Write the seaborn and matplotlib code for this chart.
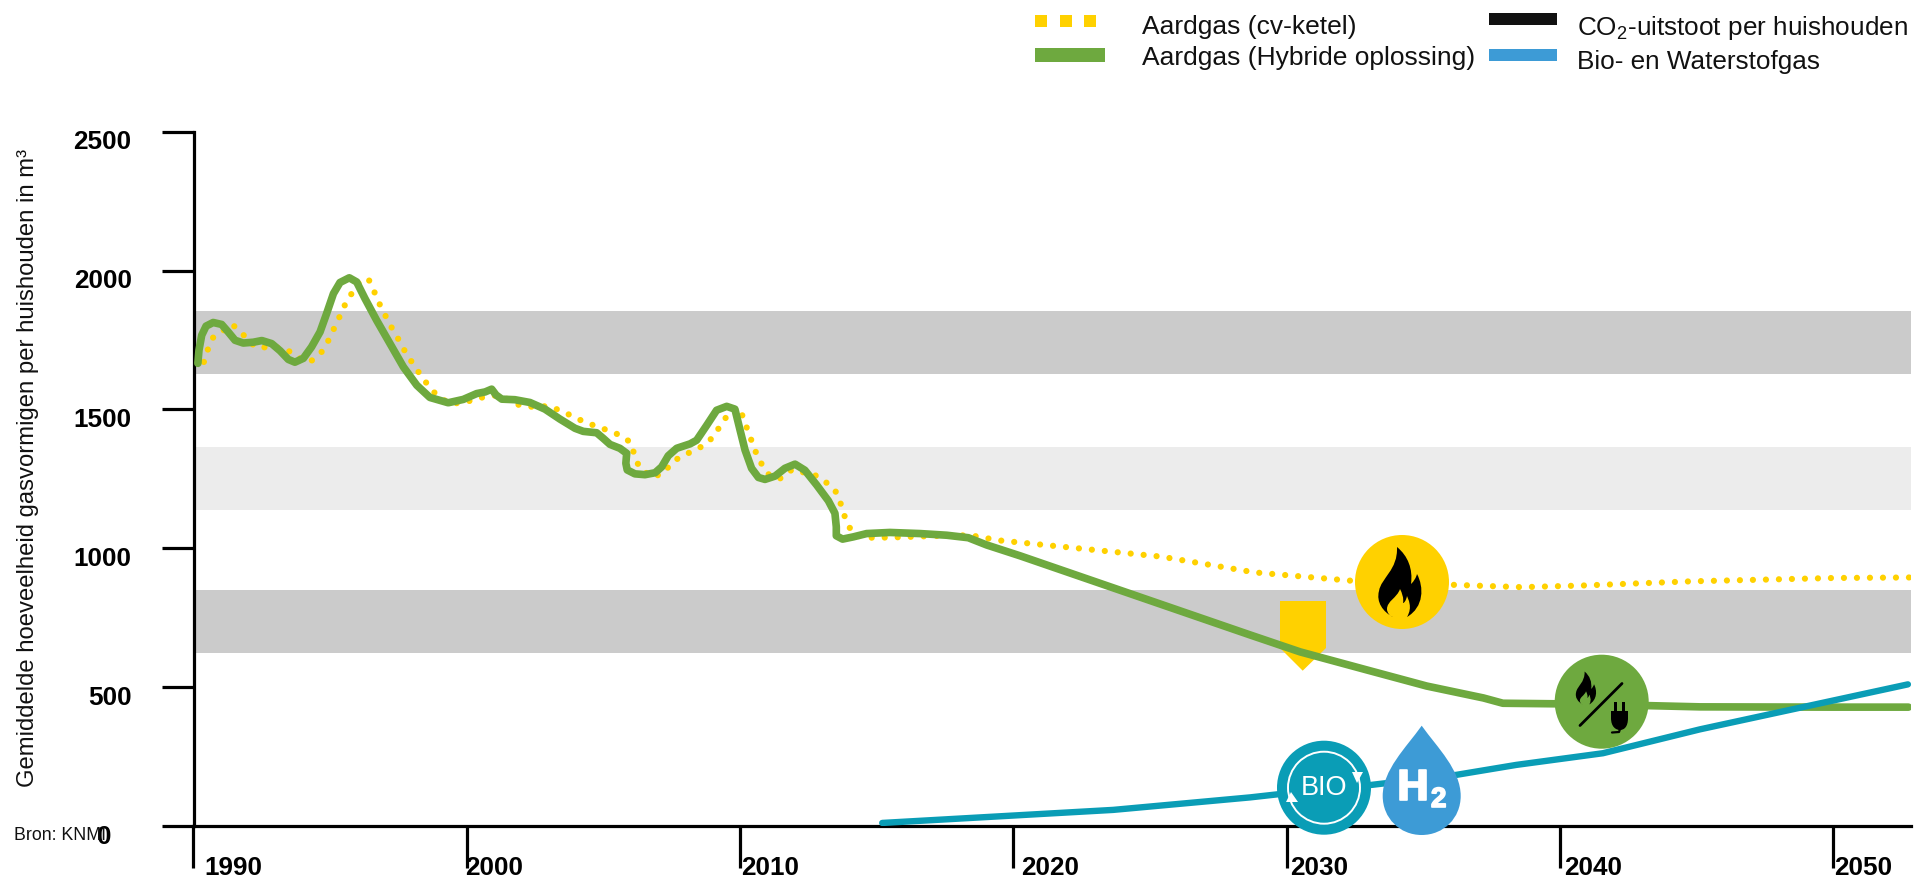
import matplotlib
matplotlib.use('Agg')
import matplotlib.pyplot as plt
import matplotlib.patheffects as pe
import seaborn as sns
from matplotlib.patches import Circle, PathPatch, Polygon, Rectangle
from matplotlib.path import Path
from matplotlib.transforms import Affine2D

# values
years_gas = [1990.38, 1990.53, 1990.72, 1991.42, 1991.73, 1992.29, 1992.86, 1993.37, 1993.75, 1994.26,
             1994.65, 1994.93, 1995.14, 1995.36, 1995.58, 1995.85, 1996.12, 1996.41, 1996.6, 1996.8,
             1997.03, 1997.27, 1997.52, 1997.76, 1998.04, 1998.32, 1998.63, 1998.96, 1999.39, 1999.85,
             2000.3, 2000.75, 2001.21, 2001.91, 2002.43, 2002.98, 2003.45, 2003.92, 2004.34, 2004.76,
             2005.2, 2005.64, 2006.01, 2006.15, 2006.35, 2006.8, 2007.19, 2007.46, 2007.77, 2008.2,
             2008.65, 2009.01, 2009.26, 2009.53, 2009.9, 2010.12, 2010.26, 2010.42, 2010.58, 2010.79,
             2011.03, 2011.43, 2011.91, 2012.8, 2013.15, 2013.48, 2013.66, 2013.79, 2013.94, 2014.2,
             2014.63, 2015.56, 2016.98, 2018.41, 2018.94, 2019.41, 2025.4, 2028.84, 2032.38, 2036.2,
             2038.6, 2040.84, 2044.8, 2050.0, 2052.9]
gas_boiler = [1671, 1717, 1759, 1806, 1778, 1722, 1725, 1720, 1689, 1671,
              1701, 1747, 1791, 1837, 1885, 1927, 1965, 1968, 1927, 1881,
              1836, 1791, 1749, 1705, 1663, 1622, 1581, 1545, 1521, 1524,
              1536, 1548, 1551, 1516, 1509, 1512, 1495, 1473, 1453, 1439,
              1423, 1406, 1380, 1329, 1284, 1257, 1270, 1303, 1327, 1347,
              1369, 1400, 1439, 1478, 1509, 1472, 1429, 1387, 1345, 1303,
              1267, 1249, 1284, 1261, 1237, 1208, 1167, 1125, 1084, 1047,
              1038, 1039, 1044, 1047, 1038, 1029, 970, 913, 883, 868,
              860, 866, 881, 893, 895]

years_hybrid = [1990.16, 1990.2, 1990.3, 1990.46, 1990.72, 1991.03, 1991.27, 1991.52, 1991.82, 1992.19,
                1992.5, 1992.86, 1993.17, 1993.47, 1993.71, 1994.02, 1994.32, 1994.63, 1994.87, 1995.12,
                1995.36, 1995.7, 1995.97, 1996.27, 1996.7, 1997.19, 1997.68, 1998.17, 1998.65, 1999.32,
                1999.87, 2000.36, 2000.67, 2000.91, 2001.07, 2001.28, 2001.76, 2002.31, 2002.86, 2003.41,
                2003.96, 2004.26, 2004.75, 2004.99, 2005.24, 2005.6, 2005.85, 2005.82, 2005.87, 2006.15,
                2006.52, 2006.89, 2007.13, 2007.37, 2007.68, 2008.17, 2008.41, 2008.78, 2009.14, 2009.51,
                2009.81, 2010.0, 2010.18, 2010.42, 2010.67, 2010.91, 2011.28, 2011.64, 2012.01, 2012.37,
                2012.8, 2013.23, 2013.47, 2013.52, 2013.52, 2013.75, 2014.14, 2014.63, 2015.48, 2016.58,
                2017.56, 2018.35, 2019.02, 2020.24, 2028.66, 2030.49, 2032.93, 2035.12, 2037.2, 2037.91,
                2040.84, 2045.12, 2050.0, 2052.75]
gas_hybrid = [1666, 1713, 1767, 1800, 1813, 1806, 1779, 1749, 1739, 1742,
              1748, 1737, 1711, 1680, 1670, 1684, 1725, 1779, 1845, 1917,
              1957, 1974, 1959, 1900, 1821, 1737, 1653, 1587, 1543, 1524,
              1536, 1557, 1563, 1573, 1552, 1537, 1535, 1525, 1501, 1465,
              1432, 1421, 1416, 1396, 1374, 1360, 1342, 1306, 1282, 1268,
              1265, 1272, 1293, 1333, 1360, 1376, 1389, 1443, 1497, 1511,
              1501, 1425, 1354, 1288, 1255, 1248, 1260, 1288, 1303, 1281,
              1228, 1171, 1126, 1077, 1045, 1033, 1041, 1053, 1057, 1053,
              1047, 1038, 1012, 973, 688, 627, 562, 504, 461, 442,
              439, 429, 428, 428]

years_bio = [2015.2, 2023.65, 2028.66, 2029.75, 2033.1, 2036.2, 2038.4, 2041.57, 2045.12, 2052.73]
bio_h2 = [11, 58, 103, 115, 148, 184, 220, 262, 348, 510]

band_dark = [(1627, 1854), (624, 850)]
band_light = [(1137, 1365)]
x_ticks = [1990, 2000, 2010, 2020, 2030, 2040, 2050]
y_ticks = [0, 500, 1000, 1500, 2000, 2500]

YELLOW = '#FFD100'
GREEN = '#6EA93F'
TEAL = '#0A9DB6'
BLUE = '#3D9BD6'
BLACK = '#111111'

sns.set_theme(style='white')
plt.rcParams['font.family'] = ['Liberation Sans']
plt.rcParams['mathtext.default'] = 'regular'

W, H = 1918, 880
fig = plt.figure(figsize=(W / 100, H / 100), dpi=100)
ax = fig.add_axes([193.5 / W, (H - 826) / H, (1911 - 193.5) / W, (826 - 131.7) / H])
# picture pixels, origin top left, for the icons and the legend
px = Affine2D().scale(1, -1).translate(0, H)

for lo, hi in band_dark:
    ax.axhspan(lo, hi, color='#CBCBCB', lw=0, zorder=1)
for lo, hi in band_light:
    ax.axhspan(lo, hi, color='#ECECEC', lw=0, zorder=1)

sns.lineplot(x=years_gas, y=gas_boiler, ax=ax, color=YELLOW, linewidth=4.5, sort=False, estimator=None,
             errorbar=None, linestyle=(0, (0.001, 2.08)), dash_capstyle='round', zorder=3)
sns.lineplot(x=years_hybrid, y=gas_hybrid, ax=ax, color=GREEN, linewidth=5.5, sort=False, estimator=None,
             errorbar=None, solid_joinstyle='round', solid_capstyle='round', zorder=4)
sns.lineplot(x=years_bio, y=bio_h2, ax=ax, color=TEAL, linewidth=4.6, sort=False, estimator=None,
             errorbar=None, solid_capstyle='round', zorder=5)

ax.set_xlim(1990, 1990 + (1911 - 193.5) / 27.33)
ax.set_ylim(0, 2500)
ax.set_xticks(x_ticks)
ax.set_yticks(y_ticks)
ax.set_xlabel('')
ax.set_ylabel('')
sns.despine(ax=ax)
for s in ['left', 'bottom']:
    ax.spines[s].set_linewidth(2.3)
    ax.spines[s].set_color('black')
ax.tick_params(axis='y', length=23, width=2.3, pad=21.5, color='black', left=True, labelsize=18.8)
ax.tick_params(axis='x', length=30, width=2.3, pad=0, color='black', bottom=True, labelsize=18.8)

x_shift = [10.5, -1.5, 1, 8, 3, 4.5, 1]
for lab, dx in zip(ax.get_xticklabels(), x_shift):
    lab.set_fontweight('bold')
    lab.set_color('black')
    lab.set_ha('left')
    lab.set_transform(lab.get_transform() + Affine2D().translate(dx, 12))
for lab, val in zip(ax.get_yticklabels(), y_ticks):
    lab.set_fontweight('bold')
    lab.set_color('black')
    dx = -20 if val == 0 else 0
    lab.set_transform(lab.get_transform() + Affine2D().translate(dx, -8))

fig.text(28, 468, 'Gemiddelde hoeveelheid gasvormigen per huishouden in m³', transform=px, rotation=90,
         ha='center', va='center', fontsize=17.2, color=BLACK)
fig.text(14, 835, 'Bron: KNMI', transform=px, ha='left', va='center', fontsize=12.8, color=BLACK)


def add_patch(p, z=6):
    p.set_transform(px)
    p.set_clip_on(False)
    p.set_zorder(z)
    ax.add_patch(p)


def curve(pts, color, cx=0, cy=0, s=1.0, z=7):
    # pts: first point, then bezier triples
    verts = [(cx + x * s, cy + y * s) for x, y in pts]
    codes = [Path.MOVETO] + [Path.CURVE4] * (len(verts) - 1)
    add_patch(PathPatch(Path(verts + verts[:1], codes + [Path.CLOSEPOLY]), fc=color, ec='none', lw=0), z)


# flame, coordinates relative to its middle
flame = [(-7, 35),
         (-17, 30), (-24, 20), (-21, 9),
         (-19, -4), (-2, -12), (-3, -35),
         (8, -26), (13, -13), (11, 2),
         (14, -1), (16, -4), (17, -8),
         (24, 5), (24, 25), (7, 35),
         (13, 25), (8, 17), (7, 14),
         (6, 19), (4, 21), (3, 21),
         (4, 16), (2, 11), (0, 7),
         (-3, 16), (-13, 19), (-13, 27),
         (-13, 31), (-10, 34), (-7, 35)]

# pentagon behind the green line
add_patch(Polygon([(1280, 601), (1326, 601), (1326, 648), (1302.7, 670.7), (1280, 648)], fc=YELLOW, ec='none'), 2)

# gas icon
add_patch(Circle((1402, 582), 47, fc=YELLOW, ec='none'))
curve(flame, 'black', 1400, 582)

# hybrid icon
add_patch(Circle((1601.7, 701.7), 47, fc=GREEN, ec='none'))
curve(flame, 'black', 1586, 688, 0.47)
ax.plot([1580, 1622], [725.5, 683.5], color='black', lw=2, transform=px, clip_on=False, zorder=7, solid_capstyle='round')
add_patch(Rectangle((1611, 711), 17, 8, fc='black', ec='none'), 7)
curve([(1611, 718), (1611, 727), (1616, 730), (1620, 730),
       (1624, 730), (1628, 727), (1628, 718)], 'black', z=7)
add_patch(Rectangle((1613.5, 702), 3, 10, fc='black', ec='none'), 7)
add_patch(Rectangle((1622, 702), 3, 10, fc='black', ec='none'), 7)
ax.plot([1620, 1619, 1612], [729, 732, 732.5], color='black', lw=1.6, transform=px, clip_on=False, zorder=7)

# bio icon
add_patch(Circle((1324, 787.7), 47, fc=TEAL, ec='none'))
add_patch(Circle((1324, 787.7), 36, fc='none', ec='white', lw=1.4), 7)
add_patch(Polygon([(1286, 802), (1298, 802), (1291, 792)], fc='white', ec='none'), 7)
add_patch(Polygon([(1352, 772), (1363, 772), (1357, 783)], fc='white', ec='none'), 7)
ax.text(1324, 788, 'BIO', transform=px, ha='center', va='center', color='white', fontsize=19.5, zorder=8)

# hydrogen drop
drop = [(0, -70.3), (-16, -48), (-39, -26), (-39, 0), (-39, 22), (-22, 39), (0, 39),
        (22, 39), (39, 22), (39, 0), (39, -26), (16, -48), (0, -70.3)]
curve(drop, BLUE, 1421.7, 796, z=6)
heavy = [pe.withStroke(linewidth=1.2, foreground='white')]
ax.text(1413, 789, 'H', transform=px, ha='center', va='center', color='white', fontsize=31,
        fontweight='bold', zorder=8, path_effects=heavy)
ax.text(1438.7, 800, '2', transform=px, ha='center', va='center', color='white', fontsize=20,
        fontweight='bold', zorder=8, path_effects=heavy)

# legend
for x0 in [1035, 1059.5, 1084]:
    add_patch(Rectangle((x0, 15), 12, 12, fc=YELLOW, ec='none'))
add_patch(Rectangle((1035, 48), 70, 14, fc=GREEN, ec='none'))
add_patch(Rectangle((1489, 13), 68, 12, fc=BLACK, ec='none'))
add_patch(Rectangle((1489, 49), 68, 12, fc=BLUE, ec='none'))
fig.text(1142, 27, 'Aardgas (cv-ketel)', transform=px, ha='left', va='center', fontsize=19, color=BLACK)
fig.text(1142, 58, 'Aardgas (Hybride oplossing)', transform=px, ha='left', va='center', fontsize=19, color=BLACK)
fig.text(1577, 28, 'CO$_2$-uitstoot per huishouden', transform=px, ha='left', va='center', fontsize=18.8, color=BLACK)
fig.text(1577, 62, 'Bio- en Waterstofgas', transform=px, ha='left', va='center', fontsize=18.8, color=BLACK)

fig.savefig('out.png', dpi=100)
